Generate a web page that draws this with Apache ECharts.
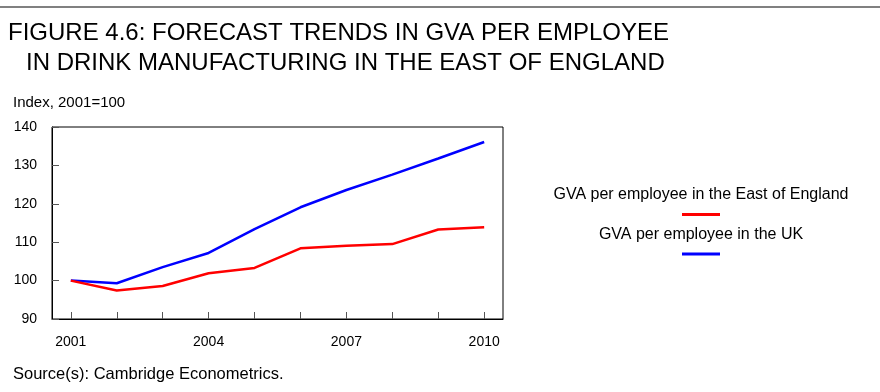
<!DOCTYPE html>
<html>
<head>
<meta charset="utf-8">
<script src="https://cdn.jsdelivr.net/npm/echarts@6/dist/echarts.min.js"></script>
<style>
  html, body { margin: 0; padding: 0; background: #fff; }
  #chart { width: 880px; height: 392px; }
</style>
</head>
<body>
<div id="chart"></div>
<script>
// data
const years = [2001, 2002, 2003, 2004, 2005, 2006, 2007, 2008, 2009, 2010]
const eastOfEngland = [100, 97.4, 98.6, 101.9, 103.3, 108.4, 109.1, 109.5, 113.3, 113.9]
const unitedKingdom = [100, 99.3, 103.5, 107.2, 113.4, 119.1, 123.6, 127.6, 131.8, 136.1]
const yearLabels = [2001, 2004, 2007, 2010]
const seriesNames = ['GVA per employee in the East of England', 'GVA per employee in the UK']

const FONT = 'Liberation Sans, Arial, sans-serif'

const chart = echarts.init(document.getElementById('chart'), null, { renderer: 'canvas' })

const pairs = vals => years.map((y, i) => [y, vals[i]])

chart.setOption({
  animation: false,
  backgroundColor: '#fff',
  textStyle: { fontFamily: FONT },
  title: [
    {
      text: 'FIGURE 4.6: FORECAST TRENDS IN GVA PER EMPLOYEE',
      left: 3, top: 16,
      textStyle: { fontFamily: FONT, fontSize: 24, fontWeight: 'normal', color: '#000' }
    },
    {
      text: 'IN DRINK MANUFACTURING IN THE EAST OF ENGLAND',
      left: 21, top: 46,
      textStyle: { fontFamily: FONT, fontSize: 24, fontWeight: 'normal', color: '#000' }
    },
    {
      text: 'Index, 2001=100',
      left: 8, top: 90,
      textStyle: { fontFamily: FONT, fontSize: 15, fontWeight: 'normal', color: '#000' }
    },
    {
      text: 'Source(s): Cambridge Econometrics.',
      left: 8, top: 361,
      textStyle: { fontFamily: FONT, fontSize: 16.5, fontWeight: 'normal', color: '#000' }
    }
  ],
  graphic: [
    {
      // grey rule along the top of the figure
      type: 'line',
      shape: { x1: 0, y1: 7, x2: 880, y2: 7 },
      style: { stroke: '#808080', lineWidth: 2 }
    }
  ],
  legend: {
    orient: 'vertical',
    left: 535,
    top: 182,
    itemWidth: 0,
    itemHeight: 0,
    itemGap: 6,
    selectedMode: false,
    data: seriesNames,
    formatter: name => {
      const bar = name === seriesNames[0] ? 'r' : 'b'
      return '{t|' + name + '}\n{g|}\n{' + bar + '|}'
    },
    textStyle: {
      width: 310,
      rich: {
        t: { fontFamily: FONT, fontSize: 16, color: '#000', lineHeight: 20, align: 'center' },
        g: { lineHeight: 8, height: 8, align: 'center' },
        r: { width: 38, height: 3, lineHeight: 3, backgroundColor: '#ff0000', align: 'center' },
        b: { width: 38, height: 3, lineHeight: 3, backgroundColor: '#0000ff', align: 'center' }
      }
    }
  },
  grid: {
    left: 52,
    right: 377,
    top: 127,
    bottom: 73,
    show: true,
    borderColor: '#000',
    borderWidth: 1,
    containLabel: false
  },
  xAxis: {
    type: 'value',
    min: 2000.59,
    max: 2010.41,
    splitLine: { show: false },
    axisLine: { show: true, lineStyle: { color: '#000', width: 1 } },
    axisTick: {
      show: true,
      inside: true,
      length: 7,
      customValues: years,
      lineStyle: { color: '#555' }
    },
    axisLabel: {
      customValues: yearLabels,
      margin: 16,
      fontFamily: FONT,
      fontSize: 14,
      color: '#000',
      formatter: v => String(v)
    }
  },
  yAxis: {
    type: 'value',
    min: 90,
    max: 140,
    interval: 10,
    splitLine: { show: false },
    axisLine: { show: true, lineStyle: { color: '#000', width: 1 } },
    axisTick: { show: true, inside: true, length: 7, lineStyle: { color: '#555' } },
    axisLabel: {
      margin: 15,
      fontFamily: FONT,
      fontSize: 14,
      color: '#000'
    }
  },
  series: [
    {
      name: seriesNames[1],
      type: 'line',
      data: pairs(unitedKingdom),
      symbol: 'none',
      color: '#0000ff',
      lineStyle: { color: '#0000ff', width: 2.5 }
    },
    {
      name: seriesNames[0],
      type: 'line',
      data: pairs(eastOfEngland),
      symbol: 'none',
      color: '#ff0000',
      lineStyle: { color: '#ff0000', width: 2.5 }
    }
  ]
})
</script>
</body>
</html>
